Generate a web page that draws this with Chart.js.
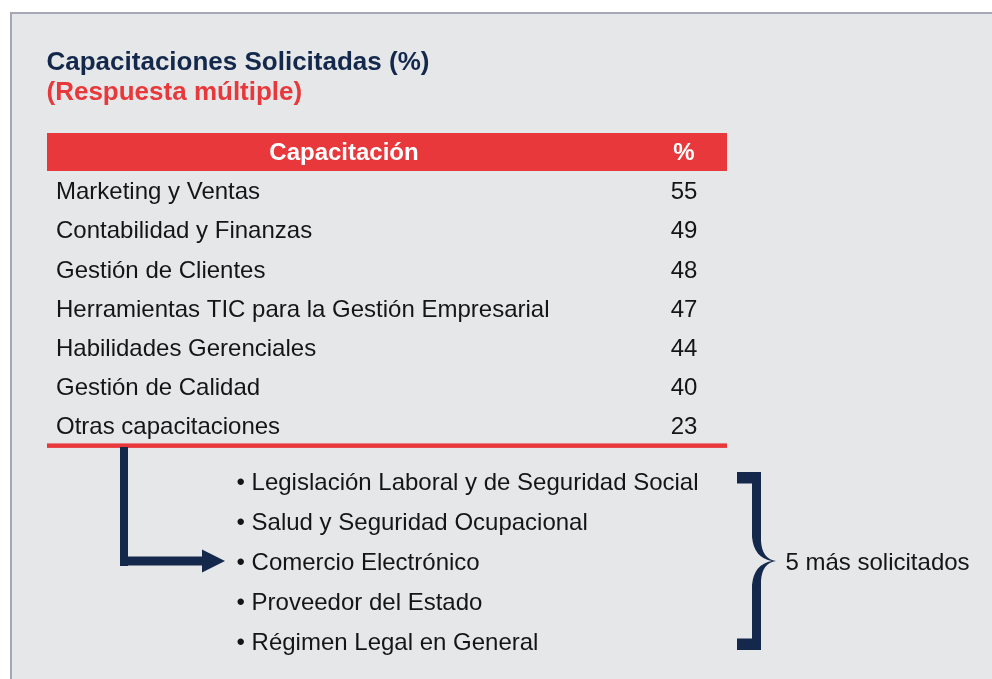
<!DOCTYPE html>
<html>
<head>
<meta charset="utf-8">
<script src="https://cdn.jsdelivr.net/npm/chart.js@4.4.1/dist/chart.umd.min.js"></script>
<style>
  html, body { margin: 0; padding: 0; background: #ffffff; overflow: hidden; }
  #wrap { position: relative; width: 992px; height: 679px; }
  canvas { position: absolute; left: 0; top: 0; }
</style>
</head>
<body>
<div id="wrap">
  <canvas id="tableChart" width="992" height="679"></canvas>
  <canvas id="listChart" width="992" height="679"></canvas>
</div>
<script>
// ---- data ----
const titleText = 'Capacitaciones Solicitadas (%)';
const subtitleText = '(Respuesta múltiple)';
const headers = ['Capacitación', '%'];
const categories = [
  'Marketing y Ventas',
  'Contabilidad y Finanzas',
  'Gestión de Clientes',
  'Herramientas TIC para la Gestión Empresarial',
  'Habilidades Gerenciales',
  'Gestión de Calidad',
  'Otras capacitaciones'
];
const values = [55, 49, 48, 47, 44, 40, 23];
const otherItems = [
  'Legislación Laboral y de Seguridad Social',
  'Salud y Seguridad Ocupacional',
  'Comercio Electrónico',
  'Proveedor del Estado',
  'Régimen Legal en General'
];
const bracketLabel = '5 más solicitados';

// ---- styles ----
const FONT = '"Liberation Sans", Arial, Helvetica, sans-serif';
const NAVY = '#13284b';
const RED = '#e8383b';
const TEXT = '#151515';
const BG = '#e6e7e9';
const BORDER = '#a6a7b5';

const tablePlugin = {
  id: 'tablePlugin',
  beforeDraw(chart) {
    const ctx = chart.ctx;
    const W = chart.width, H = chart.height;
    const { left, right, top } = chart.chartArea;
    ctx.save();
    ctx.fillStyle = '#ffffff';
    ctx.fillRect(0, 0, W, H);
    ctx.fillStyle = BG;
    ctx.fillRect(10, 12, W - 10, H - 12);
    ctx.fillStyle = BORDER;
    ctx.fillRect(10, 12, W - 10, 2);
    ctx.fillRect(10, 12, 2, H - 12);

    ctx.textBaseline = 'alphabetic';
    ctx.textAlign = 'left';
    ctx.font = 'bold 26px ' + FONT;
    ctx.fillStyle = NAVY;
    ctx.fillText(titleText, left - 0.5, 69.5);
    ctx.fillStyle = RED;
    ctx.fillText(subtitleText, left - 0.5, 99.5);

    // header bar
    ctx.fillStyle = RED;
    ctx.fillRect(left, 133, right - left, top - 133);
    ctx.fillStyle = '#ffffff';
    ctx.font = 'bold 24px ' + FONT;
    ctx.textAlign = 'center';
    const numCol = right - 43;
    ctx.fillText(headers[0], (left + right - 87) / 2 + 0.5, 160.3);
    ctx.fillText(headers[1], numCol, 160.3);
    ctx.restore();
  },
  afterDatasetsDraw(chart) {
    const ctx = chart.ctx;
    const { left, right, bottom } = chart.chartArea;
    const meta = chart.getDatasetMeta(0);
    const yScale = chart.scales.y;
    const numCol = right - 43;
    ctx.save();
    ctx.font = '24px ' + FONT;
    ctx.fillStyle = TEXT;
    ctx.textBaseline = 'alphabetic';
    categories.forEach((c, i) => {
      const y = yScale.getPixelForValue(i) + 8.6;
      ctx.textAlign = 'left';
      ctx.fillText(c, left + 9, y);
    });
    meta.data.forEach((bar, i) => {
      ctx.textAlign = 'center';
      ctx.fillText(String(chart.data.datasets[0].data[i]), numCol, bar.y + 8.6);
    });
    ctx.fillStyle = RED;
    ctx.fillRect(left, bottom - 2, right - left, 4.5);
    ctx.restore();
  }
};

new Chart(document.getElementById('tableChart'), {
  type: 'bar',
  data: {
    labels: categories,
    datasets: [{
      data: values,
      backgroundColor: 'rgba(0,0,0,0)',
      borderWidth: 0
    }]
  },
  options: {
    indexAxis: 'y',
    responsive: false,
    animation: false,
    devicePixelRatio: 1,
    events: [],
    layout: { padding: { left: 47, right: 265, top: 171, bottom: 233.6 } },
    scales: {
      x: { display: false, min: 0, max: 100 },
      y: { display: false, offset: true }
    },
    plugins: { legend: { display: false }, tooltip: { enabled: false }, title: { display: false } }
  },
  plugins: [tablePlugin]
});

const listPlugin = {
  id: 'listPlugin',
  afterDraw(chart) {
    const ctx = chart.ctx;
    const yScale = chart.scales.y;
    const { left } = chart.chartArea;
    ctx.save();
    // arrow from table to list
    const midY = yScale.getPixelForValue(2);
    ctx.fillStyle = NAVY;
    ctx.fillRect(120, 447, 8, midY + 5 - 447);
    ctx.fillRect(120, midY - 4.5, 83, 9);
    ctx.beginPath();
    ctx.moveTo(202, midY - 11.5);
    ctx.lineTo(225, midY);
    ctx.lineTo(202, midY + 11.5);
    ctx.closePath();
    ctx.fill();

    // bullet list
    ctx.font = '24px ' + FONT;
    ctx.fillStyle = TEXT;
    ctx.textAlign = 'left';
    ctx.textBaseline = 'alphabetic';
    chart.data.labels.forEach((t, i) => {
      ctx.fillText('\u2022 ' + t, left, yScale.getPixelForValue(i) + 8.6);
    });

    // curly bracket
    const yTop = yScale.getPixelForValue(0) - 9;
    const yBot = yScale.getPixelForValue(otherItems.length - 1) + 9;
    const xa = 737, xb = 752, xc = 761, tip = 776;
    ctx.fillStyle = NAVY;
    ctx.beginPath();
    ctx.moveTo(xa, yTop);
    ctx.lineTo(xc, yTop);
    ctx.lineTo(xc, midY - 20);
    ctx.quadraticCurveTo(xc + 1, midY - 2, tip, midY);
    ctx.quadraticCurveTo(xc + 1, midY + 2, xc, midY + 20);
    ctx.lineTo(xc, yBot);
    ctx.lineTo(xa, yBot);
    ctx.lineTo(xa, yBot - 11.5);
    ctx.lineTo(xb, yBot - 11.5);
    ctx.lineTo(xb, midY + 24);
    ctx.quadraticCurveTo(xb + 2, midY + 3, tip - 4, midY);
    ctx.quadraticCurveTo(xb + 2, midY - 3, xb, midY - 24);
    ctx.lineTo(xb, yTop + 11.5);
    ctx.lineTo(xa, yTop + 11.5);
    ctx.closePath();
    ctx.fill();

    ctx.fillStyle = TEXT;
    ctx.fillText(bracketLabel, 785.5, midY + 8.6);
    ctx.restore();
  }
};

new Chart(document.getElementById('listChart'), {
  type: 'bar',
  data: { labels: otherItems, datasets: [] },
  options: {
    indexAxis: 'y',
    responsive: false,
    animation: false,
    devicePixelRatio: 1,
    events: [],
    layout: { padding: { left: 236.5, right: 250, top: 461, bottom: 18 } },
    scales: {
      x: { display: false, min: 0, max: 100 },
      y: { type: 'category', display: false, offset: true }
    },
    plugins: { legend: { display: false }, tooltip: { enabled: false } }
  },
  plugins: [listPlugin]
});
</script>
</body>
</html>
